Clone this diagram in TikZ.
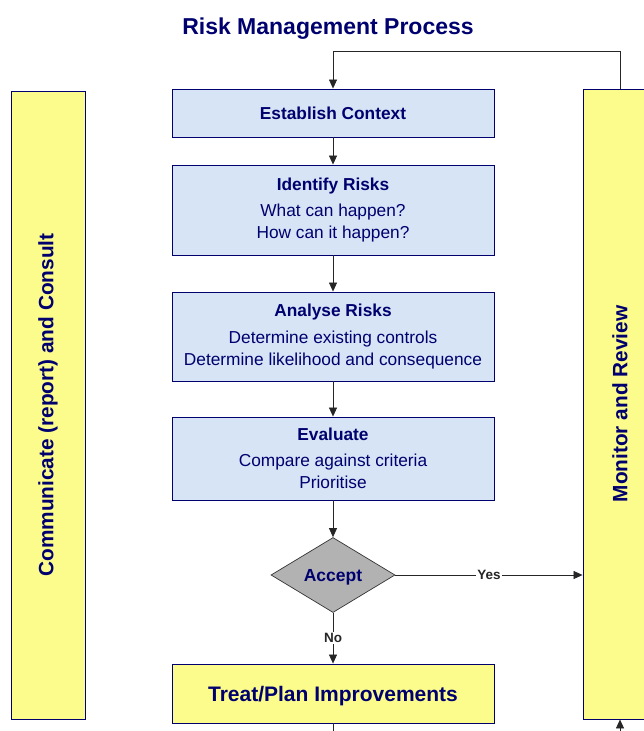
\documentclass[tikz,border=0pt]{standalone}
\usepackage{fontspec}
\setmainfont{Liberation Sans}
\usetikzlibrary{arrows.meta, shapes.geometric, positioning, calc}
\definecolor{navy}{RGB}{0,0,110}
\definecolor{boxblue}{RGB}{214,228,246}
\definecolor{boxyellow}{RGB}{252,252,140}
\definecolor{dgray}{RGB}{178,178,178}

\begin{document}
\begin{tikzpicture}[
      x=1pt, y=-1pt,
      >={Triangle[length=9pt, width=8pt]},
      stepbox/.style={draw=navy, fill=boxblue, line width=0.9pt,
                  minimum width=322pt, align=center, text=navy, font=\fontsize{17.3}{22}\selectfont},
      side/.style={draw=navy, fill=boxyellow, line width=0.9pt,
                  minimum width=74pt, text=navy, font=\fontsize{20.8}{24}\selectfont\bfseries},
      arr/.style={->, line width=0.7pt, black!85},
      lbl/.style={fill=white, inner sep=1pt, font=\fontsize{13.5}{15}\selectfont\bfseries}
    ]
    \clip (0,0) rectangle (644,731);
    \useasboundingbox (0,0) rectangle (644,731);

    % --- Title ---
    \node[text=navy, font=\fontsize{23}{27}\selectfont\bfseries] (ttl) at (328,29) {Risk Management Process};

    % --- Side bars ---
    \node[side, minimum height=628pt] (com) at (48,405)
      {\rotatebox{90}{Communicate (report) and Consult}};
    \node[side, minimum height=630pt] (mon) at (620,404)
      {\rotatebox{90}{Monitor and Review}};

    % --- Process steps ---
    \node[stepbox, minimum height=48pt] (ctx) at (333,113) {\textbf{Establish Context}};
    \node[stepbox, minimum height=90pt] (idr) at (333,210)
      {\textbf{Identify Risks}\\[4.5pt] What can happen?\\ How can it happen?};
    \node[stepbox, minimum height=89pt] (ana) at (333,336.5)
      {\textbf{Analyse Risks}\\[4.5pt] Determine existing controls\\ Determine likelihood and consequence};
    \node[stepbox, minimum height=83pt] (evl) at (333,458.5)
      {\textbf{Evaluate}\\[4.5pt] Compare against criteria\\ Prioritise};

    % --- Decision ---
    \node[diamond, draw=black!80, fill=dgray, line width=0.7pt, aspect=1.65, inner sep=0pt,
          minimum width=124pt, minimum height=75pt, text=navy, text depth=0pt,
          font=\fontsize{17.5}{20}\selectfont\bfseries] (acc) at (333,575) {Accept};

    % --- Treatment ---
    \node[stepbox, fill=boxyellow, minimum height=59pt, text depth=0pt,
          font=\fontsize{21}{24}\selectfont\bfseries]
      (trt) at (333,693.5) {Treat/Plan Improvements};

    % --- Flow arrows ---
    \draw[arr] (ctx) -- (idr);
    \draw[arr] (idr) -- (ana);
    \draw[arr] (ana) -- (evl);
    \draw[arr] (evl) -- (acc);
    \draw[arr] (acc) -- node[lbl]{No} (trt);
    \draw[arr] (acc.east) -- node[lbl, pos=0.5]{Yes} (acc.east -| mon.west);

    % --- Feedback loops ---
    \draw[arr] (mon.north) -- ++(0,-37) -| (ctx.north);
    \draw[arr] (trt.south) -- ++(0,30) -| (mon.south);

  \end{tikzpicture}
\end{document}
